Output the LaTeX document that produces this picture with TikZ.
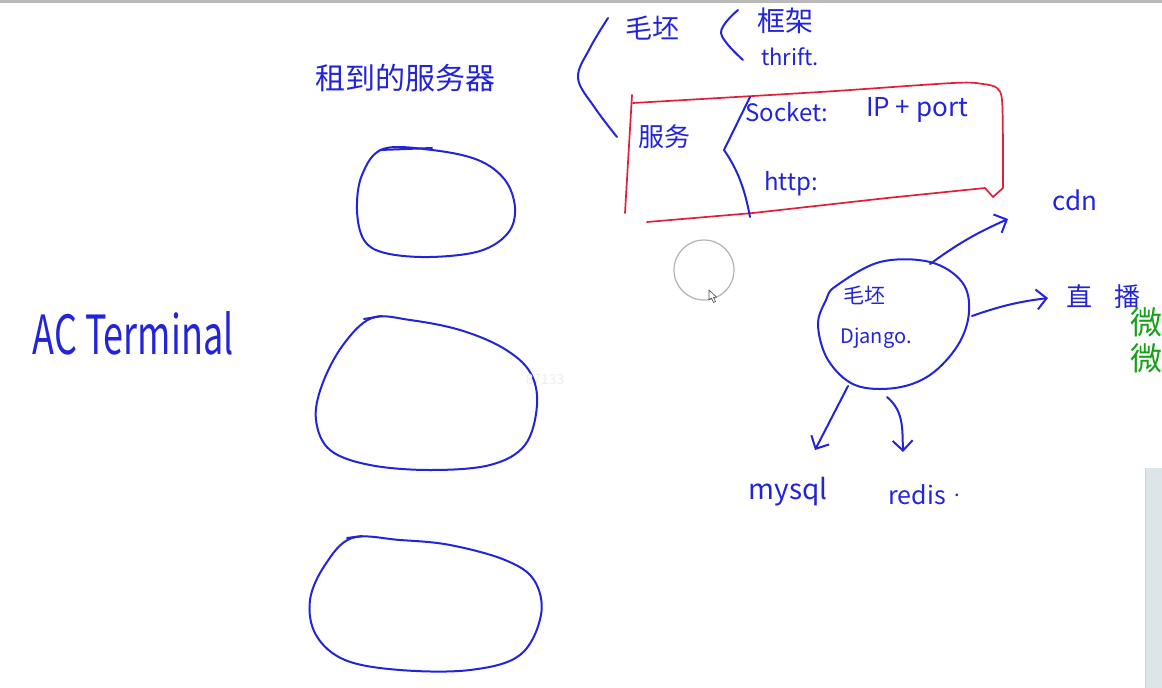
\documentclass[tikz,border=0pt]{standalone}
\usepackage{fontspec}
\usepackage{graphicx}
\setmainfont{Noto Sans CJK SC}
\usetikzlibrary{positioning, calc, arrows.meta}
\definecolor{ink}{RGB}{35,35,215}
\definecolor{redink}{RGB}{225,30,60}
\definecolor{wechat}{RGB}{25,160,25}
\definecolor{panel}{RGB}{220,229,232}
\newcommand{\handsize}[1]{\fontsize{#1}{#1}\selectfont}
\tikzstyle{Ink} = [draw=ink, line width=2pt, line cap=round, line join=round]
\tikzstyle{RedInk} = [draw=redink, line width=1.7pt, line cap=round, line join=round]
\tikzstyle{Arrow} = [Ink, -{Straight Barb[length=10pt, width=20pt, line width=2pt]}]
\tikzstyle{Label} = [text=ink, inner sep=0pt]

\begin{document}
\begin{tikzpicture}[x=1pt, y=-1pt]
    \useasboundingbox (0,0) rectangle (1162,688);
    \clip (0,0) rectangle (1162,688);
    \fill[gray!55] (0,0) rectangle (1162,2.5);
    \fill[panel] (1145,468) rectangle (1162,688);
    \draw[gray!35, line width=0.8pt] (1145,468) -- (1145,688);

    % left side: servers
    \node[Label, font=\handsize{30}] (rented) at (405,78) {租到的服务器};
    \node[Label, font=\handsize{36}] (ac) at (133,333) {\scalebox{1}[1.5]{AC Terminal}};
    \draw[Ink] plot[smooth cycle, tension=0.6] coordinates {(383,149) (362,175) (357,210) (364,240) (385,253) (430,257) (480,251) (508,233) (515,208) (505,180) (478,160) (432,150)};
    \draw[Ink] (380,150) -- (432,148);
    \draw[Ink] plot[smooth cycle, tension=0.6] coordinates {(372,318) (343,345) (322,385) (316,420) (330,450) (370,465) (430,470) (490,465) (525,445) (537,405) (530,372) (503,348) (460,330) (410,320)};
    \draw[Ink] (364,319) -- (382,316);
    \draw[Ink] plot[smooth cycle, tension=0.6] coordinates {(352,538) (325,565) (310,600) (316,635) (345,660) (400,670) (470,670) (520,655) (541,615) (534,580) (505,560) (450,545) (400,540)};
    \draw[Ink] (347,538) -- (362,536);

    % top: rough vs service
    \draw[Ink] plot[smooth, tension=0.6] coordinates {(608,18) (590,48) (578,78) (595,108) (617,137)};
    \node[Label, font=\handsize{27}] (rough) at (652,28) {毛坯};
    \draw[Ink] plot[smooth, tension=0.6] coordinates {(738,10) (721,33) (743,60)};
    \node[Label, font=\handsize{28}] (frame) at (785,21) {框架};
    \node[Label, font=\handsize{22}] (thrift) at (790,57) {thrift.};

    \draw[RedInk] (632,95) -- (625,213);
    \draw[RedInk] plot[smooth, tension=0.5] coordinates {(633,103) (820,92) (953,83) (983,84) (997,88) (1002,100) (1003,147) (1003,188)} -- (993,197) -- (985,188) -- (887,198) -- (753,213) -- (647,222);
    \node[Label, font=\handsize{26}] (service) at (664,137) {服务};
    \draw[Ink] (750,97) -- (724,150) .. controls (738,170) and (745,190) .. (750,217);
    \node[Label, font=\handsize{24}] (socket) at (787,112) {Socket:};
    \node[Label, font=\handsize{26}] (ipport) at (917,110) {IP + port};
    \node[Label, font=\handsize{24}] (http) at (791,184) {http:};

    % pointer
    \draw[gray!60, line width=1.2pt] (704,270) circle (30);
    \draw[black!70, fill=white, line width=0.6pt] (709,290) -- (709,300) -- (711.5,298) -- (713.5,302.5) -- (715.5,301.5) -- (713.5,297.5) -- (716.5,297) -- cycle;
    \node[text=black!7, font=\handsize{14}] (mark) at (545,380) {87133};

    % django blob
    \draw[Ink] plot[smooth cycle, tension=0.6] coordinates {(836,286) (880,262) (930,262) (962,282) (969,312) (958,345) (930,375) (895,388) (855,385) (828,360) (818,325) (826,300)};
    \node[Label, font=\handsize{21}] (rough2) at (864,295) {毛坯};
    \node[Label, font=\handsize{20}] (django) at (876,338) {Django.};

    \coordinate (dj-top) at (930,264);
    \coordinate (dj-right) at (972,316);
    \coordinate (dj-left) at (848,386);
    \coordinate (dj-bottom) at (887,397);
    \coordinate (to-cdn) at (1008,219);
    \coordinate (to-live) at (1048,298);
    \coordinate (to-mysql) at (815,450);
    \coordinate (to-redis) at (903,452);

    \node[Label, font=\handsize{26}] (cdn) at (1075,200) {cdn};
    \node[Label, font=\handsize{26}] (live) at (1103,297) {直\hspace{22pt}播};
    \node[text=wechat, inner sep=0pt, font=\handsize{32}] (wei1) at (1146,322) {微};
    \node[text=wechat, inner sep=0pt, font=\handsize{32}] (wei2) at (1146,358) {微};
    \node[Label, font=\handsize{28}] (mysql) at (788,492) {mysql};
    \node[Label, font=\handsize{25}] (redis) at (917,495) {redis};
    \node[Label, font=\handsize{20}, right=8pt of redis] (dot) {.};

    \draw[Arrow] (dj-top) to[bend left=6] (to-cdn);
    \draw[Arrow] (dj-right) to[bend left=6] (to-live);
    \draw[Arrow] (dj-left) -- (to-mysql);
    \draw[Arrow] (dj-bottom) to[out=-40, in=92] (to-redis);
\end{tikzpicture}
\end{document}
